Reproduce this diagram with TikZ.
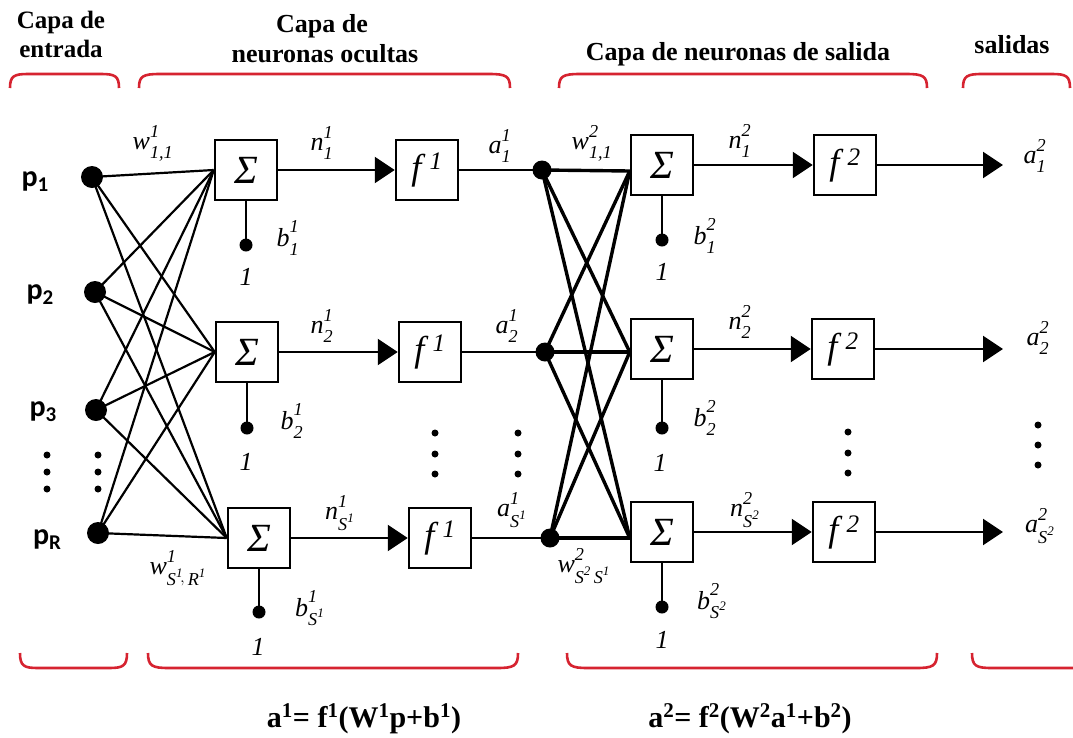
\documentclass[tikz,border=0pt]{standalone}
\usepackage{amsmath}
\usepackage{fontspec}
\setmainfont{Liberation Serif}
\newfontfamily\pfont{Carlito}
\usetikzlibrary{arrows.meta,calc}
\definecolor{brkred}{RGB}{214,35,48}
\newcommand\mi[1]{\textit{#1}}
\newcommand\up[1]{\text{\raisebox{3pt}{\itshape #1}}}
\newcommand\dn[1]{\text{\raisebox{-3pt}{\itshape #1}}}
\newcommand\psub[2]{#1\raisebox{-5pt}{\fontsize{21}{24}\selectfont #2}}
\begin{document}
\begin{tikzpicture}[x=1pt,y=-1pt,
  sumbox/.style={draw, line width=2.5pt, minimum width=62pt, minimum height=60pt, inner sep=0pt, font=\fontsize{40}{44}\selectfont\itshape},
  actbox/.style={draw, line width=2.5pt, minimum width=62pt, minimum height=60pt, inner sep=0pt, font=\fontsize{36}{40}\selectfont},
  indot/.style={circle, fill, inner sep=0pt, minimum size=22pt},
  hdot/.style={circle, fill, inner sep=0pt, minimum size=19pt},
  bdot/.style={circle, fill, inner sep=0pt, minimum size=13pt},
  vdot/.style={circle, fill, inner sep=0pt, minimum size=7pt},
  conn/.style={line width=2.2pt},
  conn2/.style={line width=3.4pt},
  wire/.style={line width=2.5pt},
  arr/.style={line width=2.5pt, -{Triangle[length=20pt,width=26pt]}},
  lbl/.style={font=\fontsize{26}{30}\selectfont, inner sep=0pt},
  plbl/.style={font=\pfont\bfseries\fontsize{30}{32}\selectfont, inner sep=0pt},
  ttl/.style={font=\bfseries\fontsize{26}{30}\selectfont, inner sep=0pt, anchor=base},
  frm/.style={font=\bfseries\fontsize{30}{32}\selectfont, inner sep=0pt, anchor=base},
  brk/.style={draw=brkred, line width=2.6pt},
]
\useasboundingbox[fill=white] (0,0) rectangle (1073,737);

% titles
\node[ttl, font=\bfseries\fontsize{25}{28}\selectfont] (t1a) at (61,28) {Capa de};
\node[ttl, font=\bfseries\fontsize{25}{28}\selectfont] (t1b) at (61,57) {entrada};
\node[ttl] (t2a) at (322,32) {Capa de};
\node[ttl] (t2b) at (325,62) {neuronas ocultas};
\node[ttl] (t3) at (738,60) {Capa de neuronas de salida};
\node[ttl] (t4) at (1012,53) {salidas};

% brackets top
\draw[brk] (10,88) .. controls (10,76) and (14,74) .. (28,74) -- (101,74) .. controls (115,74) and (119,76) .. (119,88);
\draw[brk] (139,88) .. controls (139,76) and (143,74) .. (160,74) -- (489,74) .. controls (506,74) and (510,76) .. (510,88);
\draw[brk] (559,88) .. controls (559,76) and (563,74) .. (580,74) -- (906,74) .. controls (923,74) and (927,76) .. (927,88);
\draw[brk] (963,88) .. controls (963,76) and (967,74) .. (982,74) -- (1052,74) .. controls (1066,74) and (1070,76) .. (1070,88);
% brackets bottom
\draw[brk] (20,653) .. controls (20,666) and (24,668) .. (38,668) -- (109,668) .. controls (123,668) and (127,666) .. (127,653);
\draw[brk] (148,653) .. controls (148,666) and (152,668) .. (169,668) -- (497,668) .. controls (514,668) and (518,666) .. (518,653);
\draw[brk] (567,653) .. controls (567,666) and (571,668) .. (588,668) -- (916,668) .. controls (933,668) and (937,666) .. (937,653);
\draw[brk] (972,653) .. controls (972,666) and (976,668) .. (992,668) -- (1073,668);

% formulas
\node[frm] (fm1) at (364,727) {a\textsuperscript{1}= f\textsuperscript{1}(W\textsuperscript{1}p+b\textsuperscript{1})};
\node[frm] (fm2) at (750,727) {a\textsuperscript{2}= f\textsuperscript{2}(W\textsuperscript{2}a\textsuperscript{1}+b\textsuperscript{2})};

% input nodes
\node[indot] (P1) at (92,177) {};
\node[indot] (P2) at (95,292) {};
\node[indot] (P3) at (96,410) {};
\node[indot] (PR) at (98,533) {};
\node[plbl] (lp1) at (35,182) {\psub{p}{1}};
\node[plbl] (lp2) at (40,295) {\psub{p}{2}};
\node[plbl] (lp3) at (43,412) {\psub{p}{3}};
\node[plbl] (lpR) at (47,540) {\psub{p}{R}};
\foreach \i/\yy in {1/455,2/472,3/489}{
  \node[vdot] (va\i) at (47,\yy) {};
  \node[vdot] (vb\i) at (98,\yy) {};
}

% hidden layer
\node[sumbox] (S11) at (246,170) {Σ};
\node[sumbox] (S12) at (247,352) {Σ};
\node[sumbox] (S13) at (259,538) {Σ};
\node[actbox] (F11) at (427,170) {\mi{f}$^{\,\mi{1}}$};
\node[actbox] (F12) at (430,352) {\mi{f}$^{\,\mi{1}}$};
\node[actbox] (F13) at (440,538) {\mi{f}$^{\,\mi{1}}$};
\node[hdot] (H1) at (542,170) {};
\node[hdot] (H2) at (545,352) {};
\node[hdot] (H3) at (550,538) {};
\node[bdot] (B11) at (246,245) {};
\node[bdot] (B12) at (247,428) {};
\node[bdot] (B13) at (259,612) {};
\foreach \i/\yy in {1/433,2/454,3/474}{
  \node[vdot] (vc\i) at (435,\yy) {};
  \node[vdot] (vd\i) at (518,\yy) {};
}

% output layer
\node[sumbox] (S21) at (662,165) {Σ};
\node[sumbox] (S22) at (662,349) {Σ};
\node[sumbox] (S23) at (662,532) {Σ};
\node[actbox] (F21) at (845,165) {\mi{f}$^{\,\mi{2}}$};
\node[actbox] (F22) at (843,349) {\mi{f}$^{\,\mi{2}}$};
\node[actbox] (F23) at (844,532) {\mi{f}$^{\,\mi{2}}$};
\node[bdot] (B21) at (662,240) {};
\node[bdot] (B22) at (662,428) {};
\node[bdot] (B23) at (662,607) {};
\coordinate (O1) at (1003,165);
\coordinate (O2) at (1003,349);
\coordinate (O3) at (1003,532);
\foreach \i/\yy in {1/432,2/453,3/473}{
  \node[vdot] (ve\i) at (848,\yy) {};
}
\foreach \i/\yy in {1/425,2/445,3/465}{
  \node[vdot] (vf\i) at (1038,\yy) {};
}
\coordinate (J21) at ($(S21.west)+(0,6)$);
\coordinate (J22) at ($(S22.west)+(0,3)$);
\coordinate (J23) at ($(S23.west)+(0,6)$);

% layer 1 weights
\foreach \p in {P1,P2,P3,PR}{
  \foreach \s in {S11,S12,S13}{
    \draw[conn] (\p.center) -- (\s.west);
  }
}
% layer 2 weights
\foreach \h in {H1,H2,H3}{
  \foreach \s in {J21,J22,J23}{
    \draw[conn2] (\h.center) -- (\s);
  }
}
% sum -> activation
\draw[arr] (S11.east) -- (F11.west);
\draw[arr] (S12.east) -- (F12.west);
\draw[arr] (S13.east) -- (F13.west);
\draw[wire] (F11.east) -- (H1.center);
\draw[wire] (F12.east) -- (H2.center);
\draw[wire] (F13.east) -- (H3.center);
\draw[arr] (S21.east) -- (F21.west);
\draw[arr] (S22.east) -- (F22.west);
\draw[arr] (S23.east) -- (F23.west);
\draw[arr] (F21.east) -- (O1);
\draw[arr] (F22.east) -- (O2);
\draw[arr] (F23.east) -- (O3);
% biases
\draw[wire] (S11.south) -- (B11.center);
\draw[wire] (S12.south) -- (B12.center);
\draw[wire] (S13.south) -- (B13.center);
\draw[wire] (S21.south) -- (B21.center);
\draw[wire] (S22.south) -- (B22.center);
\draw[wire] (S23.south) -- (B23.center);

% labels
\node[lbl] (lw111) at (153,143) {$\mi{w}^{\up{1}}_{\dn{1,1}}$};
\node[lbl] (lw1SR) at (178,568) {$\mi{w}^{\up{1}}_{\dn{S}^{\mi{1}}\!,\,\dn{R}^{\mi{1}}}$};
\node[lbl] (ln11) at (322,143) {$\mi{n}^{\up{1}}_{\dn{1}}$};
\node[lbl] (ln12) at (322,326) {$\mi{n}^{\up{1}}_{\dn{2}}$};
\node[lbl] (ln13) at (340,513) {$\mi{n}^{\up{1}}_{\dn{S}^{\mi{1}}}$};
\node[lbl] (la11) at (500,146) {$\mi{a}^{\up{1}}_{\dn{1}}$};
\node[lbl] (la12) at (507,326) {$\mi{a}^{\up{1}}_{\dn{2}}$};
\node[lbl] (la13) at (512,510) {$\mi{a}^{\up{1}}_{\dn{S}^{\mi{1}}}$};
\node[lbl] (lb11) at (288,238) {$\mi{b}^{\up{1}}_{\dn{1}}$};
\node[lbl] (lb12) at (292,421) {$\mi{b}^{\up{1}}_{\dn{2}}$};
\node[lbl] (lb13) at (310,608) {$\mi{b}^{\up{1}}_{\dn{S}^{\mi{1}}}$};
\node[lbl] (lo11) at (246,277) {\mi{1}};
\node[lbl] (lo12) at (246,462) {\mi{1}};
\node[lbl] (lo13) at (258,647) {\mi{1}};

\node[lbl] (lw211) at (592,143) {$\mi{w}^{\up{2}}_{\dn{1,1}}$};
\node[lbl] (lw2SS) at (584,566) {$\mi{w}^{\up{2}}_{\dn{S}^{\mi{2}}\,\dn{S}^{\mi{1}}}$};
\node[lbl] (ln21) at (740,141) {$\mi{n}^{\up{2}}_{\dn{1}}$};
\node[lbl] (ln22) at (740,322) {$\mi{n}^{\up{2}}_{\dn{2}}$};
\node[lbl] (ln23) at (745,510) {$\mi{n}^{\up{2}}_{\dn{S}^{\mi{2}}}$};
\node[lbl] (lb21) at (705,236) {$\mi{b}^{\up{2}}_{\dn{1}}$};
\node[lbl] (lb22) at (705,418) {$\mi{b}^{\up{2}}_{\dn{2}}$};
\node[lbl] (lb23) at (712,601) {$\mi{b}^{\up{2}}_{\dn{S}^{\mi{2}}}$};
\node[lbl] (lo21) at (662,272) {\mi{1}};
\node[lbl] (lo22) at (660,463) {\mi{1}};
\node[lbl] (lo23) at (662,640) {\mi{1}};
\node[lbl] (la21) at (1035,156) {$\mi{a}^{\up{2}}_{\dn{1}}$};
\node[lbl] (la22) at (1038,338) {$\mi{a}^{\up{2}}_{\dn{2}}$};
\node[lbl] (la23) at (1040,526) {$\mi{a}^{\up{2}}_{\dn{S}^{\mi{2}}}$};
\end{tikzpicture}
\end{document}
